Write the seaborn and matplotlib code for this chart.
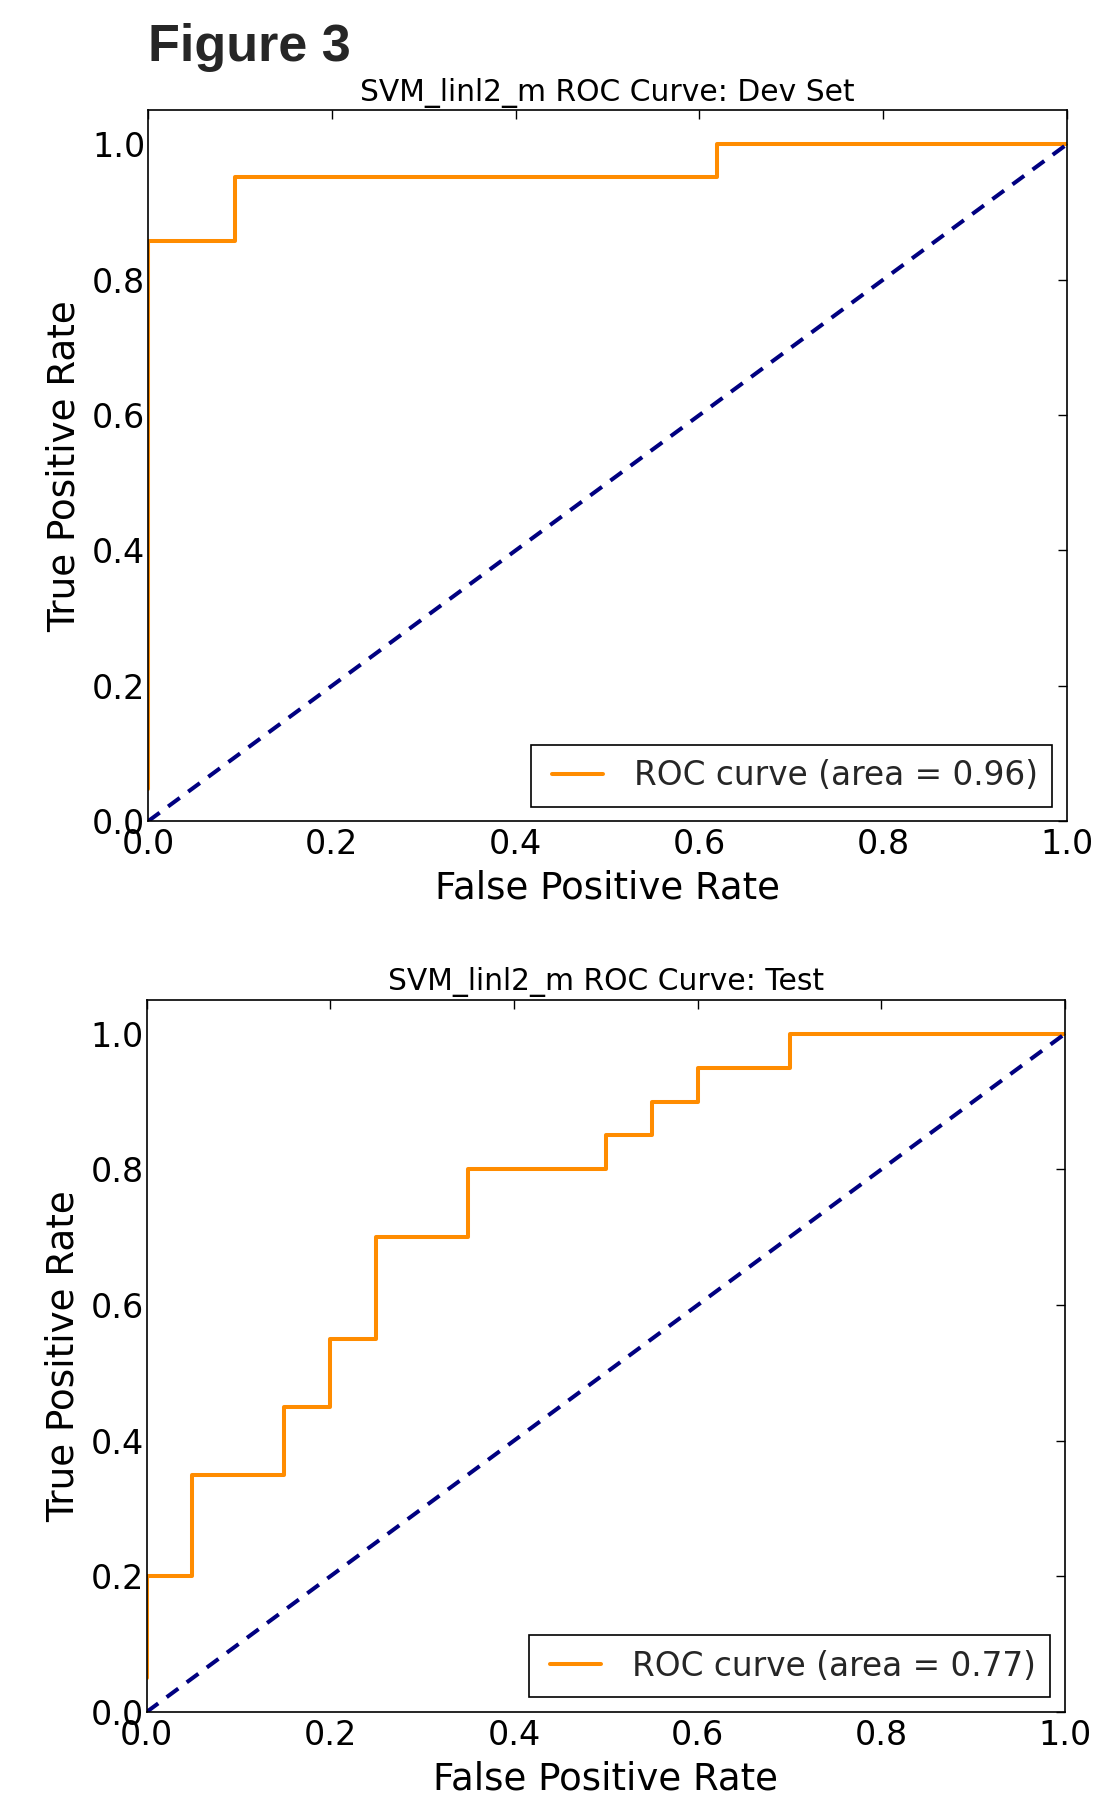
import matplotlib
matplotlib.use("Agg")
import matplotlib.pyplot as plt
from matplotlib.lines import Line2D
from matplotlib.legend_handler import HandlerLine2D
import seaborn as sns
import pandas as pd

# ---- data ----
dev_fpr = [0.0, 0.0, 0.095, 0.095, 0.619, 0.619, 1.0]
dev_tpr = [0.048, 0.857, 0.857, 0.952, 0.952, 1.0, 1.0]
dev_auc = 0.96

test_fpr = [0.0, 0.0, 0.05, 0.05, 0.15, 0.15, 0.20, 0.20, 0.25, 0.25, 0.35,
            0.35, 0.50, 0.50, 0.55, 0.55, 0.60, 0.60, 0.70, 0.70, 1.0]
test_tpr = [0.05, 0.20, 0.20, 0.35, 0.35, 0.45, 0.45, 0.55, 0.55, 0.70, 0.70,
            0.80, 0.80, 0.85, 0.85, 0.90, 0.90, 0.95, 0.95, 1.0, 1.0]
test_auc = 0.77

chance_x = [0.0, 1.0]
chance_y = [0.0, 1.0]

titles = ["SVM_linl2_m ROC Curve: Dev Set", "SVM_linl2_m ROC Curve: Test"]
xticks = [0.0, 0.2, 0.4, 0.6, 0.8, 1.0]
yticks = [0.0, 0.2, 0.4, 0.6, 0.8, 1.0]

sns.set_style("white")
plt.rcParams['font.family'] = ['DejaVu Sans']

fig = plt.figure(figsize=(11.06, 17.94), dpi=100)
fig.text(0.1338, 0.966, "Figure 3", fontsize=37.5, fontweight='bold',
         family=['Liberation Sans', 'DejaVu Sans'], ha='left', va='baseline')

positions = [[0.1338, 0.5422, 0.831, 0.3963],
             [0.1325, 0.0457, 0.8305, 0.3970]]
series = [(dev_fpr, dev_tpr, dev_auc), (test_fpr, test_tpr, test_auc)]

for pos, (fx, ty, auc), title in zip(positions, series, titles):
    ax = fig.add_axes(pos)
    df = pd.DataFrame({"fpr": fx, "tpr": ty})
    sns.lineplot(data=df, x="fpr", y="tpr", sort=False, estimator=None,
                 color="#FF8C00", lw=2.9, ax=ax,
                 label="ROC curve (area = %0.2f)" % auc)
    dfc = pd.DataFrame({"x": chance_x, "y": chance_y})
    sns.lineplot(data=dfc, x="x", y="y", sort=False, estimator=None,
                 color="#000080", lw=2.9, linestyle=(0, (3.6, 2.6)), ax=ax)
    ax.set_xlim(0.0, 1.0)
    ax.set_ylim(0.0, 1.05)
    ax.set_xticks(xticks)
    ax.set_yticks(yticks)
    ax.set_xticklabels(["%.1f" % t for t in xticks])
    ax.set_yticklabels(["%.1f" % t for t in yticks])
    ax.tick_params(direction='in', length=6.3, width=1.0, top=True, right=True,
                   labelsize=24, color='black', labelcolor='black')
    ax.tick_params(axis='x', pad=5)
    ax.tick_params(axis='y', pad=2)
    for s in ax.spines.values():
        s.set_color('black')
        s.set_linewidth(1.2)
    ax.set_xlabel("False Positive Rate", fontsize=26.7, labelpad=6, color='black')
    ax.set_ylabel("True Positive Rate", fontsize=26.8, labelpad=6.5, color='black')
    ax.set_title(title, fontsize=21.4, pad=7, color='black')
    leg = ax.legend(loc='lower right', fontsize=23.6, frameon=True, fancybox=False,
                    handlelength=1.75, handletextpad=0.95, borderpad=0.44,
                    borderaxespad=0.45,
                    handler_map={Line2D: HandlerLine2D(xpad=0.2)})
    leg.get_frame().set_edgecolor('black')
    leg.get_frame().set_linewidth(1.2)
    leg.get_frame().set_alpha(1.0)

fig.savefig("out.png", dpi=100, facecolor='white')
